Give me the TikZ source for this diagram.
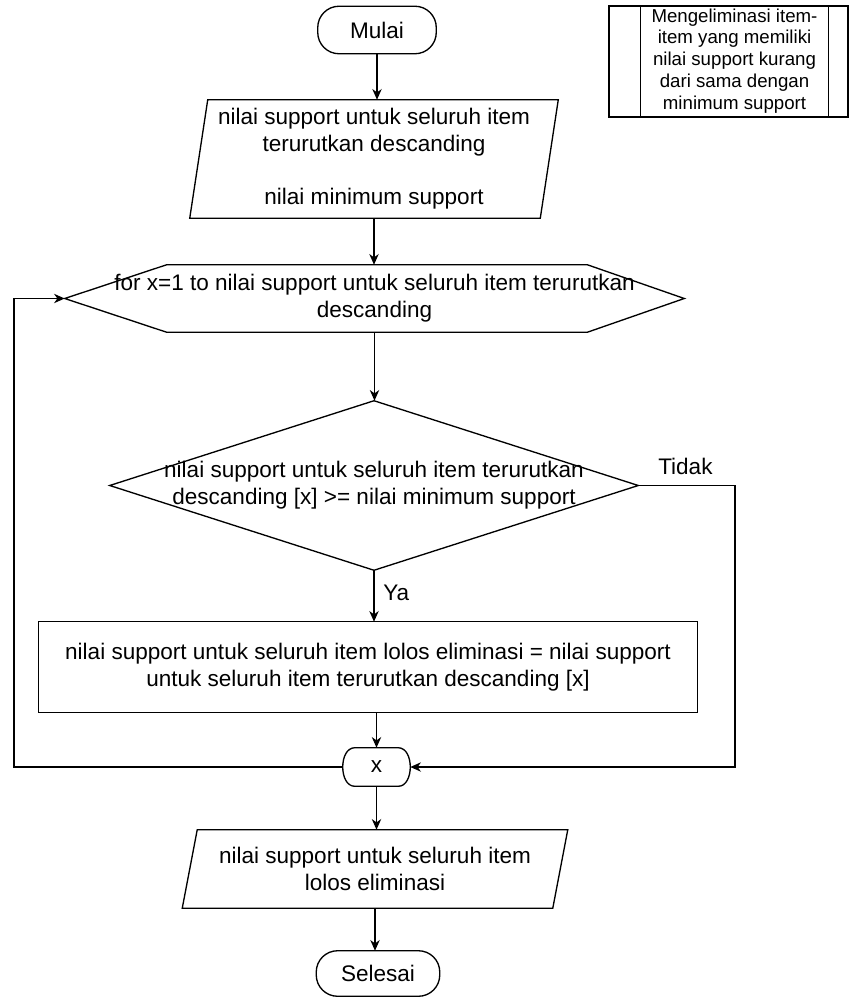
\documentclass[tikz,border=0pt]{standalone}
\usepackage{fontspec}
\setmainfont{Liberation Sans}
\usetikzlibrary{arrows.meta,calc}

\tikzset{
  frame/.style={draw=none, inner sep=0pt, align=center,
    font=\fontsize{16.9}{20}\selectfont},
  outline/.style={draw=black, line width=1pt, line join=miter},
  flow/.style={draw=black, line width=1pt, -{Stealth[length=8pt,width=7pt,inset=2.5pt]}},
  lbl/.style={inner sep=0pt, font=\fontsize{16.9}{20}\selectfont},
  notetext/.style={inner sep=0pt, align=center,
    font=\fontsize{14}{16.4}\selectfont},
}

\begin{document}
\begin{tikzpicture}[x=0.75pt, y=-0.75pt]
\useasboundingbox (0,0) rectangle (850,998);

% start terminal
\node[frame, minimum width=88.5pt, minimum height=35.25pt] (mulai) at (377,30) {Mulai};
\draw[outline, rounded corners=16pt] (mulai.north west) rectangle (mulai.south east);

% input: sorted support values and minimum support
\node[frame, minimum width=276pt, minimum height=88.5pt] (inp) at (374,159)
  {nilai support untuk seluruh item\\terurutkan descanding\\\mbox{}\\nilai minimum support};
\draw[outline] ($(inp.north west)+(18,0)$) -- (inp.north east)
  -- ($(inp.south east)+(-18,0)$) -- (inp.south west) -- cycle;

% loop header (hexagon)
\node[frame, minimum width=464.25pt, minimum height=50.25pt] (loop) at (374.5,298.5)
  {for x=1 to nilai support untuk seluruh item terurutkan\\descanding};
\draw[outline] (loop.west) -- ($(loop.north west)+(102,0)$)
  -- ($(loop.north east)+(-97,0)$) -- (loop.east)
  -- ($(loop.south east)+(-97,0)$) -- ($(loop.south west)+(102,0)$) -- cycle;

% decision
\node[frame, minimum width=396pt, minimum height=126.75pt] (dec) at (374,485.5)
  {nilai support untuk seluruh item terurutkan\\descanding [x] >= nilai minimum support};
\draw[outline] (dec.north) -- (dec.east) -- (dec.south) -- (dec.west) -- cycle;

% assignment
\node[frame, minimum width=494.25pt, minimum height=67.5pt] (asg) at (368,667)
  {nilai support untuk seluruh item lolos eliminasi = nilai support\\untuk seluruh item terurutkan descanding [x]};
\draw[outline] (asg.north west) rectangle (asg.south east);

% loop end
\node[frame, minimum width=50.25pt, minimum height=28.5pt] (xn) at (376.5,767) {x};
\draw[outline] ($(xn.north west)+(12,0)$) -- ($(xn.north east)+(-12,0)$)
  .. controls ($(xn.north east)+(4,0)$) and ($(xn.south east)+(4,0)$)
  .. ($(xn.south east)+(-12,0)$) -- ($(xn.south west)+(12,0)$)
  .. controls ($(xn.south west)+(-4,0)$) and ($(xn.north west)+(-4,0)$)
  .. cycle;

% output
\node[frame, minimum width=288.75pt, minimum height=58.5pt] (out) at (375,869)
  {nilai support untuk seluruh item\\lolos eliminasi};
\draw[outline] ($(out.north west)+(15,0)$) -- (out.north east)
  -- ($(out.south east)+(-15,0)$) -- (out.south west) -- cycle;

% end terminal
\node[frame, minimum width=92.25pt, minimum height=33.75pt] (selesai) at (378,973.5) {Selesai};
\draw[outline, rounded corners=16pt] (selesai.north west) rectangle (selesai.south east);

% note box
\node[draw=black, line width=1pt, inner sep=0pt, minimum width=179.25pt, minimum height=83.25pt] (note) at (728.5,61.5) {};
\draw[outline] ($(note.north west)+(32,0)$) -- ($(note.south west)+(32,0)$);
\draw[outline] ($(note.north east)+(-20,0)$) -- ($(note.south east)+(-20,0)$);
\node[notetext] (notetxt) at (734.5,61)
  {Mengeliminasi item-\\item yang memiliki\\nilai support kurang\\dari sama dengan\\minimum support};

% connectors
\coordinate (lp) at (14,767);
\coordinate (rp) at (735,485.5);
\draw[flow] (mulai.south) -- (mulai.south |- inp.north);
\draw[flow] (inp.south) -- (inp.south |- loop.north);
\draw[flow] (loop.south) -- (loop.south |- dec.north);
\draw[flow] (dec.south) -- (dec.south |- asg.north);
\draw[flow] (xn.north |- asg.south) -- (xn.north);
\draw[flow] (xn.west) -- (lp) |- (loop.west);
\draw[flow] (dec.east) -- (rp) |- (xn.east);
\draw[flow] (xn.south) -- (xn.south |- out.north);
\draw[flow] (out.south) -- (out.south |- selesai.north);

% branch labels
\node[lbl, anchor=base west] (tidak) at (658,474) {Tidak};
\node[lbl, anchor=base west] (ya) at (383,600) {Ya};
\end{tikzpicture}
\end{document}
